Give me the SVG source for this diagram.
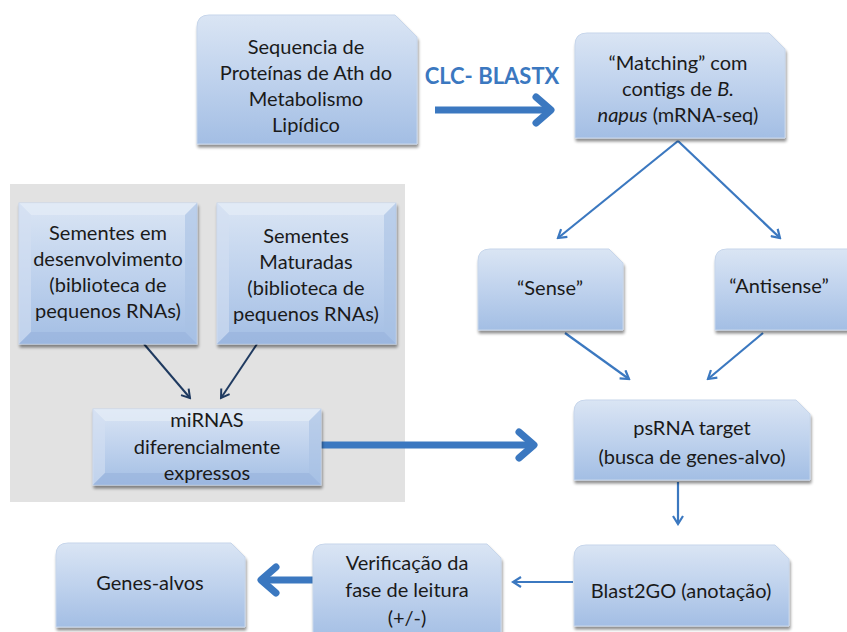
<svg xmlns="http://www.w3.org/2000/svg" width="847" height="632" viewBox="0 0 847 632">
<defs>
<linearGradient id="g" x1="0" y1="0" x2="0" y2="1">
<stop offset="0" stop-color="#dae5f4"/>
<stop offset="0.5" stop-color="#bfd2ed"/>
<stop offset="1" stop-color="#a3bee4"/>
</linearGradient>
<linearGradient id="gi" x1="0" y1="0" x2="0" y2="1">
<stop offset="0" stop-color="#cfdcf0"/>
<stop offset="1" stop-color="#b5cbea"/>
</linearGradient>
<filter id="sh" x="-10%" y="-10%" width="130%" height="130%">
<feGaussianBlur in="SourceAlpha" stdDeviation="1.5"/>
<feOffset dx="1" dy="3" result="b"/>
<feComponentTransfer><feFuncA type="linear" slope="0.45"/></feComponentTransfer>
<feMerge><feMergeNode/><feMergeNode in="SourceGraphic"/></feMerge>
</filter>
<marker id="ah" viewBox="0 0 12 12" refX="10" refY="6" markerWidth="12" markerHeight="12" markerUnits="userSpaceOnUse" orient="auto">
<polyline points="2,1 10,6 2,11" fill="none" stroke="#3b78c0" stroke-width="2.2"/>
</marker>
<marker id="an" viewBox="0 0 12 12" refX="10" refY="6" markerWidth="12" markerHeight="12" markerUnits="userSpaceOnUse" orient="auto">
<polyline points="2,1 10,6 2,11" fill="none" stroke="#1f3a60" stroke-width="2"/>
</marker>
</defs>
<style>
.box{fill:url(#g);stroke:#c7d6eb;stroke-width:1;filter:url(#sh)}
.bt{fill:#e4ecf7;opacity:.7}
.bb{fill:#98b3dc;opacity:.6}
.bl{fill:#d3e0f2;opacity:.6}
.br{fill:#a9c1e4;opacity:.6}
text{font-family:Lato,"Open Sans","Liberation Sans",sans-serif;font-size:20px;fill:#1a1a1a;text-anchor:middle}
.thin{stroke:#3b78c0;stroke-width:2.2;fill:none;marker-end:url(#ah)}
.navy{stroke:#1f3a60;stroke-width:2;fill:none;marker-end:url(#an)}
.thick{stroke:#3b78c0;stroke-width:7;fill:none}
.head{stroke:#3b78c0;stroke-width:7;fill:none;stroke-linecap:round;stroke-linejoin:round}
</style>
<rect x="10" y="184" width="395" height="318" fill="#e2e2e2"/>

<g id="connectors">
<line x1="435" y1="110" x2="548" y2="110" class="thick"/>
<polyline points="536,97 551,110 536,123" class="head"/>
<line x1="678" y1="141" x2="558" y2="238" class="thin"/>
<line x1="678" y1="141" x2="780" y2="238" class="thin"/>
<line x1="565" y1="333" x2="629" y2="379" class="thin"/>
<line x1="763" y1="333" x2="708" y2="379" class="thin"/>
<line x1="144" y1="344" x2="190" y2="398" class="navy"/>
<line x1="257" y1="344" x2="221" y2="398" class="navy"/>
<line x1="321" y1="445" x2="531" y2="445" class="thick"/>
<polyline points="519,432 534,445 519,458" class="head"/>
<line x1="678" y1="482" x2="678" y2="524" class="thin"/>
<line x1="573" y1="582" x2="513" y2="582" class="thin"/>
<line x1="313" y1="580" x2="265" y2="580" class="thick"/>
<polyline points="276,567 261,580 276,593" class="head"/>
</g>

<g id="n-seq">
<path class="box" d="M209,15 H395 L417,37 V144 H197 V27 Q197,15 209,15 Z"/>
<text x="306" y="54">Sequencia de</text>
<text x="306" y="80">Proteínas de Ath do</text>
<text x="306" y="106">Metabolismo</text>
<text x="306" y="132">Lipídico</text>
</g>

<text x="492" y="84" style="font-weight:bold;font-size:22px;fill:#3b78c0">CLC- BLASTX</text>

<g id="n-match">
<path class="box" d="M587,33 H769 L785,49 V138 H575 V45 Q575,33 587,33 Z"/>
<text x="678" y="70">“Matching” com</text>
<text x="678" y="96">contigs de <tspan font-style="italic">B.</tspan></text>
<text x="678" y="122"><tspan font-style="italic">napus</tspan> (mRNA-seq)</text>
</g>

<g id="n-sem1">
<rect class="box" x="19" y="203" width="178" height="141"/>
<polygon class="bt" points="19,203 197,203 185,215 31,215"/>
<polygon class="bl" points="19,203 31,215 31,332 19,344"/>
<polygon class="br" points="197,203 197,344 185,332 185,215"/>
<polygon class="bb" points="19,344 31,332 185,332 197,344"/>
<text x="108" y="240">Sementes em</text>
<text x="108" y="266">desenvolvimento</text>
<text x="108" y="292">(biblioteca de</text>
<text x="108" y="318">pequenos RNAs)</text>
</g>

<g id="n-sem2">
<rect class="box" x="217" y="203" width="179" height="141"/>
<polygon class="bt" points="217,203 396,203 384,215 229,215"/>
<polygon class="bl" points="217,203 229,215 229,332 217,344"/>
<polygon class="br" points="396,203 396,344 384,332 384,215"/>
<polygon class="bb" points="217,344 229,332 384,332 396,344"/>
<text x="306" y="243">Sementes</text>
<text x="306" y="269">Maturadas</text>
<text x="306" y="295">(biblioteca de</text>
<text x="306" y="321">pequenos RNAs)</text>
</g>

<g id="n-mirna">
<rect class="box" x="93" y="409" width="228" height="76"/>
<polygon class="bt" points="93,409 321,409 309,421 105,421"/>
<polygon class="bl" points="93,409 105,421 105,473 93,485"/>
<polygon class="br" points="321,409 321,485 309,473 309,421"/>
<polygon class="bb" points="93,485 105,473 309,473 321,485"/>
<text x="207" y="427">miRNAS</text>
<text x="207" y="454">diferencialmente</text>
<text x="207" y="480">expressos</text>
</g>

<g id="n-sense">
<path class="box" d="M490,249 H609 L623,263 V330 H478 V261 Q478,249 490,249 Z"/>
<text x="550" y="295">“Sense”</text>
</g>

<g id="n-antisense">
<path class="box" d="M727,249 H849 V330 H715 V261 Q715,249 727,249 Z"/>
<text x="779" y="293">“Antisense”</text>
</g>

<g id="n-psrna">
<path class="box" d="M586,400 H796 L810,414 V480 H574 V412 Q574,400 586,400 Z"/>
<text x="692" y="435">psRNA target</text>
<text x="692" y="464">(busca de genes-alvo)</text>
</g>

<g id="n-blast2go">
<path class="box" d="M586,545 H775 L789,559 V626 H574 V557 Q574,545 586,545 Z"/>
<text x="681" y="598">Blast2GO (anotação)</text>
</g>

<g id="n-verif">
<path class="box" d="M325,544 H487 L501,558 V640 H313 V556 Q313,544 325,544 Z"/>
<text x="407" y="570">Verificação da</text>
<text x="407" y="597">fase de leitura</text>
<text x="407" y="625">(+/-)</text>
</g>

<g id="n-genes">
<path class="box" d="M68,543 H231 L245,557 V627 H56 V555 Q56,543 68,543 Z"/>
<text x="150" y="590">Genes-alvos</text>
</g>
</svg>
